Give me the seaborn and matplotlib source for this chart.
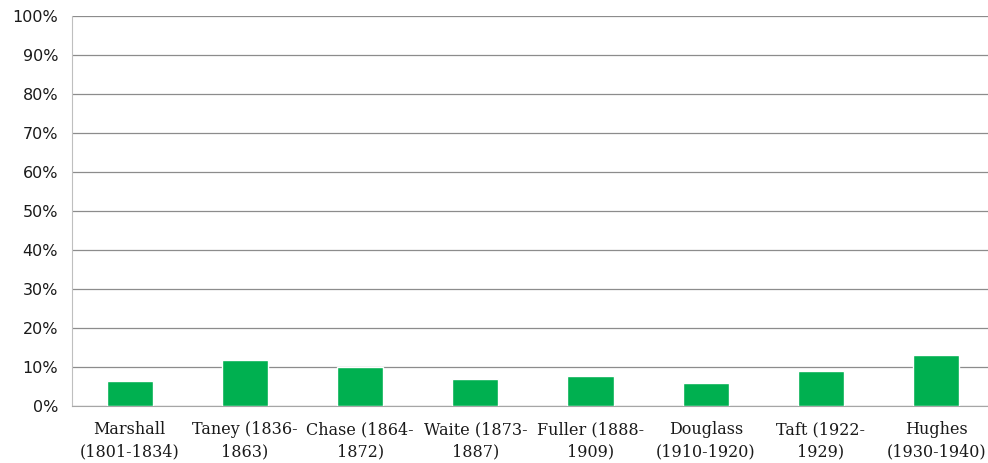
import numpy as np
import pandas as pd
import seaborn as sns
import matplotlib.pyplot as plt
from matplotlib.ticker import PercentFormatter, FixedLocator

# chief justice eras and their share (%)
eras = ["Marshall\n(1801-1834)", "Taney (1836-\n1863)", "Chase (1864-\n1872)",
        "Waite (1873-\n1887)", "Fuller (1888-\n1909)", "Douglass\n(1910-1920)",
        "Taft (1922-\n1929)", "Hughes\n(1930-1940)"]
share = [6.4, 11.8, 10.1, 6.9, 7.8, 5.8, 8.9, 13.2]

df = pd.DataFrame({"era": eras, "share": share})

sns.set_style("white")
plt.rcParams['font.family'] = ['DejaVu Sans']

fig = plt.figure(figsize=(9.88, 4.63), dpi=100)
ax = fig.add_axes([0.0729, 0.123, 0.933, 0.8424])

sns.barplot(data=df, x="era", y="share", color="#00B050", width=0.4,
            saturation=1, ax=ax, zorder=3)

# axes styling
ax.set_ylim(0, 100)
ax.set_xlim(-0.5, len(eras) - 0.5)
ax.set_yticks(np.arange(0, 101, 10))
ax.yaxis.set_major_formatter(PercentFormatter(decimals=0))
ax.yaxis.grid(True, color="#8C8C8C", linewidth=0.9, zorder=0)
ax.set_axisbelow(True)
for s in ["top", "right"]:
    ax.spines[s].set_visible(False)
ax.spines["left"].set_color("#BFBFBF")
ax.spines["bottom"].set_color("#A6A6A6")

ax.tick_params(axis="y", length=5, color="#8C8C8C", pad=5, labelsize=11.5, labelcolor="#1a1a1a")
ax.tick_params(axis="x", which="major", length=0, pad=11, labelsize=11.5)
ax.xaxis.set_minor_locator(FixedLocator(np.arange(-0.5, len(eras), 1)))
ax.tick_params(axis="x", which="minor", length=5, color="#A6A6A6")
for lbl in ax.get_xticklabels():
    lbl.set_family("DejaVu Serif")
    lbl.set_color("#1a1a1a")
    lbl.set_linespacing(1.35)

ax.set_xlabel("")
ax.set_ylabel("")

fig.savefig("out.png", dpi=100)
